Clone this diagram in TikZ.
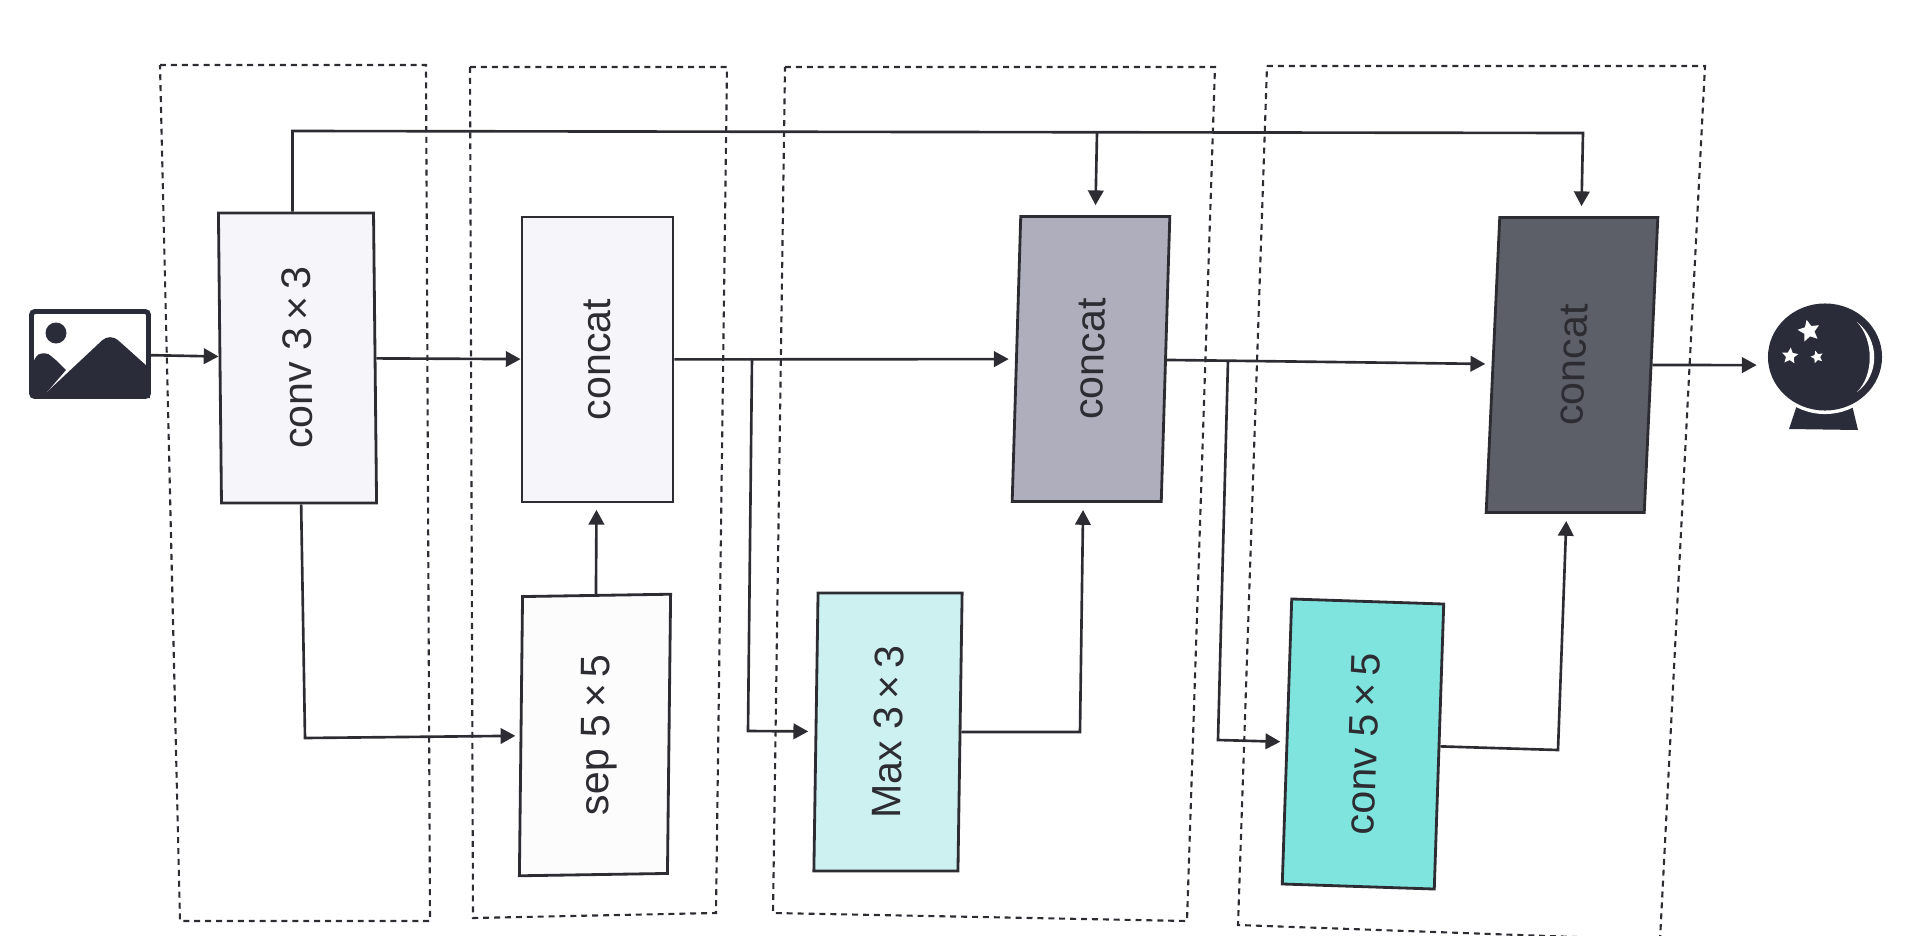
\documentclass[tikz,border=0pt]{standalone}
\usepackage{fontspec}
\setmainfont{Liberation Sans}
\usetikzlibrary{arrows.meta,shapes.geometric,backgrounds}

\definecolor{inkdark}{RGB}{44,44,50}
\definecolor{icondark}{RGB}{42,44,58}
\definecolor{palebox}{RGB}{245,245,250}
\definecolor{whitebox}{RGB}{252,252,253}
\definecolor{midbox}{RGB}{174,174,188}
\definecolor{darkbox}{RGB}{92,94,104}
\definecolor{paleteal}{RGB}{205,241,241}
\definecolor{strongteal}{RGB}{128,228,222}

\begin{document}
\begin{tikzpicture}[
    x=0.01cm,
    y=-0.01cm,
    >={Triangle[length=4.2pt,width=4.4pt]},
    block/.style={
        draw=inkdark,
        line width=0.8pt,
        inner sep=0pt,
        text=inkdark,
        font=\fontsize{11.7}{14}\selectfont
    },
    arrow/.style={
        ->,
        draw=inkdark,
        line width=0.75pt
    },
    group/.style={
        draw=inkdark,
        dash pattern=on 1.7pt off 1.4pt,
        line width=0.6pt
    },
    star5/.style={
        star,
        star points=5,
        star point ratio=2.1,
        fill=white,
        inner sep=0pt
    }
]
\useasboundingbox (0,0) rectangle (1920,936);

% Nodes - Top Row
\node[draw=icondark, line width=1.4pt, rounded corners=1pt, minimum width=1.17cm, minimum height=0.85cm, inner sep=0pt] (image) at (90,354) {};
\node[block, fill=palebox, rotate=90, yslant=0.0105, minimum width=2.9cm, minimum height=1.55cm] (conv3) at (297.5,358) {conv 3\,×\,3};
\node[block, fill=palebox, rotate=90, minimum width=2.85cm, minimum height=1.51cm] (concat1) at (597.5,359.5) {concat};
\node[block, fill=midbox, rotate=90, yslant=-0.03, minimum width=2.85cm, minimum height=1.49cm] (concat2) at (1091,359) {concat};
\node[block, fill=darkbox, rotate=90, yslant=-0.046, minimum width=2.95cm, minimum height=1.58cm] (concat3) at (1572,365) {concat};

% Nodes - Bottom Row
\node[block, fill=whitebox, rotate=90.9, yslant=-0.027, minimum width=2.79cm, minimum height=1.48cm] (sep) at (595,735) {\raisebox{0pt}[\height][0pt]{sep 5\,×\,5}};
\node[block, fill=paleteal, rotate=90, yslant=-0.015, minimum width=2.78cm, minimum height=1.44cm] (max) at (888,732) {Max 3\,×\,3};
\node[block, fill=strongteal, rotate=88.1, minimum width=2.85cm, minimum height=1.52cm] (conv5) at (1363,744) {conv 5\,×\,5};

% Image icon
\fill[icondark, rounded corners=2pt] (33,398) -- (33,358) -- (44,351) -- (54,358) [sharp corners] -- (66,370) -- (47,392) -- (52,398) -- cycle;
\fill[icondark] (50,398) -- (47,392) [rounded corners=3pt] -- (110,333) [sharp corners] -- (148,367) -- (150,398) -- cycle;
\fill[icondark] (56,333) circle[radius=10.5];

% Ball icon
\fill[icondark] (1797,405) -- (1852,405) -- (1858,430) -- (1789,429) -- cycle;
\node[ellipse, fill=white, minimum width=1.2cm, minimum height=1.14cm, inner sep=0pt] (ballring) at (1825,357) {};
\node[ellipse, fill=icondark, minimum width=1.14cm, minimum height=1.07cm, inner sep=0pt] (ball) at (1825,357) {};
\fill[white] (1857,322) .. controls (1880,340) and (1880,375) .. (1857,392) .. controls (1874,375) and (1874,340) .. cycle;
\node[star5, minimum size=0.23cm, rotate=12] (star1) at (1809,331) {};
\node[star5, minimum size=0.17cm, rotate=-5] (star2) at (1790,356) {};
\node[star5, minimum size=0.13cm, rotate=15] (star3) at (1817,357) {};

% Junctions
\coordinate (top1) at (292.5,131);
\coordinate (top2) at (1583,133);
\coordinate (top3) at (1097,133);
\coordinate (low1) at (305,738);
\coordinate (split1) at (752,358);
\coordinate (split2) at (748,731);
\coordinate (join1) at (1080,732);
\coordinate (split3) at (1228,360.5);
\coordinate (split4) at (1218,740);
\coordinate (join2) at (1558,750);

% Arrows
\draw[arrow] (image) -- (conv3);
\draw[arrow] (conv3) -- (concat1);
\draw[arrow, shorten >=1.8pt] (concat1) -- (concat2);
\draw[arrow, shorten >=1.8pt] (concat2) -- (concat3);
\draw[arrow, shorten >=3pt] (concat3) -- ([yshift=-2.3pt]ball.west);
\draw[arrow, shorten >=1.8pt] (sep) -- (concat1);
\draw[arrow, shorten >=2.8pt] (conv3.east -| top1) -- (top1) -- (top2) -- ([xshift=0.7pt]concat3.east);
\draw[arrow, shorten >=2.8pt] (top3) -- (concat2.east);
\draw[arrow, shorten >=1.2pt] ([xshift=0.6pt]conv3.west) -- (low1) -- (sep);
\draw[arrow, shorten >=1.8pt] (split1) -- (split2) -- (max);
\draw[arrow, shorten >=2pt] (max) -- (join1) -- ([xshift=-1pt]concat2.west);
\draw[arrow, shorten >=1.5pt] (split3) -- (split4) -- (conv5);
\draw[arrow, shorten >=2pt] (conv5) -- (join2) -- ([xshift=0.4pt]concat3.west);

% Groups
\begin{scope}[on background layer]
    \draw[group] (160,65) -- (426,65) -- (430,921) -- (180,921) -- cycle;
    \draw[group] (470,67) -- (727,67) -- (716,913) -- (473,918) -- cycle;
    \draw[group] (785,67) -- (1215,67) -- (1187,921) -- (773,913) -- cycle;
    \begin{scope}
        \clip (0,0) rectangle (1920,936);
        \draw[group] (1267,66) -- (1705,66) -- (1660,940) -- (1238,925) -- cycle;
    \end{scope}
\end{scope}

\end{tikzpicture}
\end{document}
